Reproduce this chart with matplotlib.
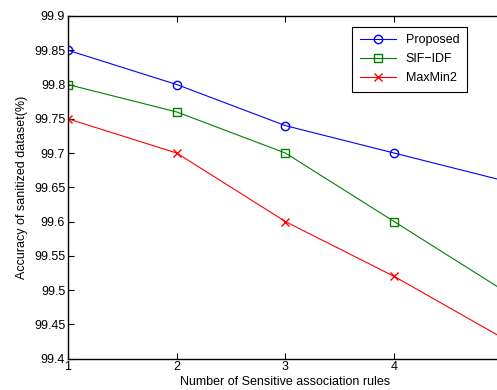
import matplotlib.pyplot as plt

plt.rcParams['font.family'] = ['Liberation Sans', 'DejaVu Sans']
plt.rcParams['font.size'] = 9

# number of sensitive association rules
rules = [1, 2, 3, 4, 5]
proposed = [99.85, 99.80, 99.74, 99.70, 99.66]
sif_idf = [99.80, 99.76, 99.70, 99.60, 99.50]
maxmin2 = [99.75, 99.70, 99.60, 99.52, 99.43]

fig = plt.figure(figsize=(4.97, 3.9), dpi=100)
# the original figure is cropped on the right, so the axes run past the edge
ax = fig.add_axes([68 / 497, 31.3 / 390, 435 / 497, 342.7 / 390])

ax.plot(rules, proposed, color='blue', marker='o', mfc='none', ms=6, lw=0.8, label='Proposed')
ax.plot(rules, sif_idf, color=(0, 0.5, 0), marker='s', mfc='none', ms=5.5, lw=0.8, label='SIF\u2212IDF')
ax.plot(rules, maxmin2, color='red', marker='x', ms=5.5, lw=0.8, label='MaxMin2')

ax.set_xlim(1, 5)
ax.set_ylim(99.4, 99.9)
ax.set_xticks([1, 2, 3, 4])
ax.set_yticks([99.4, 99.45, 99.5, 99.55, 99.6, 99.65, 99.7, 99.75, 99.8, 99.85, 99.9])
ax.set_yticklabels(['99.4', '99.45', '99.5', '99.55', '99.6', '99.65', '99.7',
                    '99.75', '99.8', '99.85', '99.9'])
ax.tick_params(direction='in', top=True, right=True, length=4, width=0.8, pad=2)
for s in ax.spines.values():
    s.set_linewidth(1.0)

ax.set_xlabel('Number of Sensitive association rules', labelpad=2)
ax.set_ylabel('Accuracy of sanitized dataset(%)', labelpad=4)

leg = ax.legend(loc='upper right', bbox_to_anchor=(0.917, 0.968), fancybox=False,
                edgecolor='black', framealpha=1, handlelength=2.9, borderpad=0.6,
                labelspacing=0.55, borderaxespad=0)
leg.get_frame().set_linewidth(0.8)

fig.savefig('out.png', dpi=100)
